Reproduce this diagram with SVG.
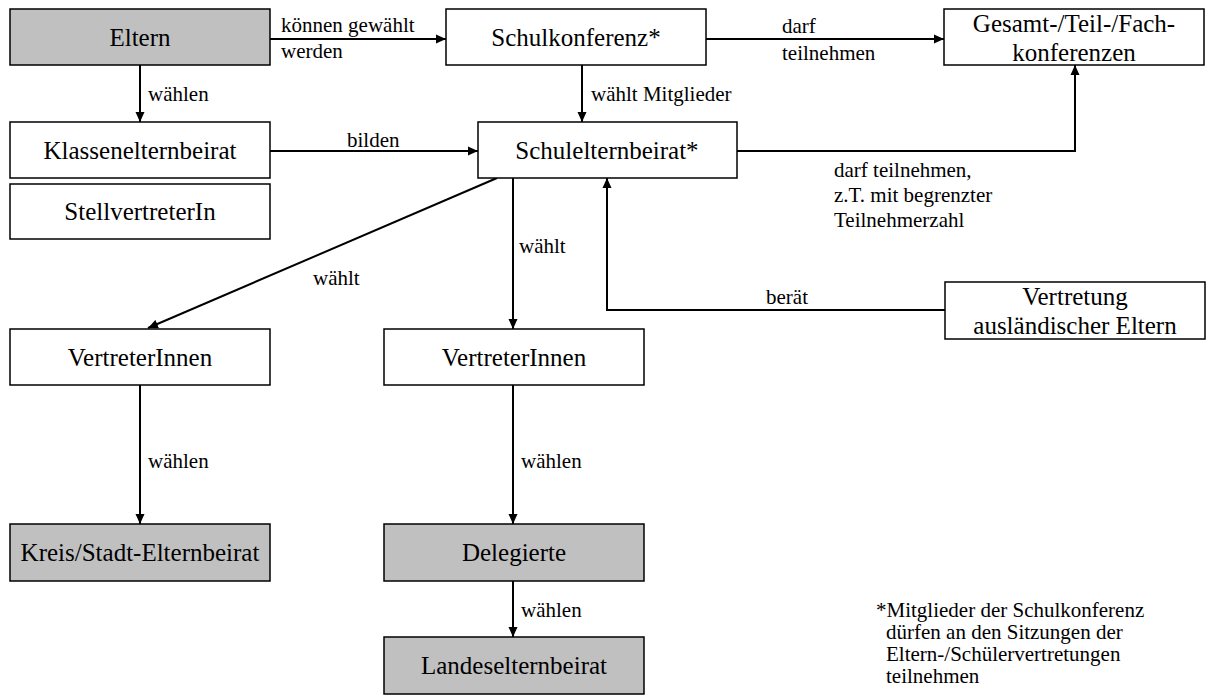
<svg xmlns="http://www.w3.org/2000/svg" width="1210" height="696" viewBox="0 0 1210 696">
<defs>
<style>
.box{fill:#ffffff;stroke:#000;stroke-width:1.5}
.grey{fill:#c0c0c0}
.bt{font-family:"Liberation Serif","Times New Roman",serif;font-size:25px;text-anchor:middle;fill:#000}
.lb{font-family:"Liberation Serif","Times New Roman",serif;font-size:21px;fill:#000}
.c{fill:none;stroke:#000;stroke-width:2}
</style>
<marker id="ah" viewBox="0 0 10 10" refX="10" refY="5" markerWidth="10" markerHeight="10" markerUnits="userSpaceOnUse" orient="auto">
<path d="M0,0.5 L10,5 L0,9.5 z" fill="#000"/>
</marker>
</defs>
<rect width="1210" height="696" fill="#fff"/>
<g id="connectors">
<path class="c" d="M270,39 H446" marker-end="url(#ah)"/>
<path class="c" d="M140,65 V122" marker-end="url(#ah)"/>
<path class="c" d="M270,151 H478" marker-end="url(#ah)"/>
<path class="c" d="M582,65 V122" marker-end="url(#ah)"/>
<path class="c" d="M706,39 H944" marker-end="url(#ah)"/>
<path class="c" d="M737,151 H1075 V65" marker-end="url(#ah)"/>
<path class="c" d="M497,178 L148,328" marker-end="url(#ah)"/>
<path class="c" d="M513,178 V329" marker-end="url(#ah)"/>
<path class="c" d="M945,310 H607 V178" marker-end="url(#ah)"/>
<path class="c" d="M140,385 V524" marker-end="url(#ah)"/>
<path class="c" d="M513,385 V524" marker-end="url(#ah)"/>
<path class="c" d="M513,581 V637" marker-end="url(#ah)"/>
<text class="lb" x="281" y="32">können gewählt</text>
<text class="lb" x="281" y="58">werden</text>
<text class="lb" x="148" y="101">wählen</text>
<text class="lb" x="347" y="147">bilden</text>
<text class="lb" x="591" y="101">wählt Mitglieder</text>
<text class="lb" x="782" y="33">darf</text>
<text class="lb" x="782" y="60">teilnehmen</text>
<text class="lb" x="834" y="177">darf teilnehmen,</text>
<text class="lb" x="834" y="202">z.T. mit begrenzter</text>
<text class="lb" x="834" y="227">Teilnehmerzahl</text>
<text class="lb" x="519" y="253">wählt</text>
<text class="lb" x="313" y="285">wählt</text>
<text class="lb" x="766" y="304">berät</text>
<text class="lb" x="148" y="468">wählen</text>
<text class="lb" x="521" y="468">wählen</text>
<text class="lb" x="521" y="617">wählen</text>
</g>
<g id="eltern"><rect class="box grey" x="10" y="9" width="260" height="56"/><text class="bt" x="140" y="46">Eltern</text></g>
<g id="schulkonferenz"><rect class="box" x="446" y="9" width="260" height="56"/><text class="bt" x="576" y="46">Schulkonferenz*</text></g>
<g id="gesamtkonferenzen"><rect class="box" x="944" y="9" width="260" height="56"/><text class="bt" x="1074" y="32">Gesamt-/Teil-/Fach-</text><text class="bt" x="1074" y="61">konferenzen</text></g>
<g id="klassenelternbeirat"><rect class="box" x="10" y="122" width="260" height="56"/><text class="bt" x="140" y="159">Klassenelternbeirat</text></g>
<g id="stellvertreterin"><rect class="box" x="10" y="184" width="260" height="55"/><text class="bt" x="140" y="220">StellvertreterIn</text></g>
<g id="schulelternbeirat"><rect class="box" x="478" y="122" width="259" height="56"/><text class="bt" x="607" y="159">Schulelternbeirat*</text></g>
<g id="vertretung"><rect class="box" x="945" y="282" width="260" height="57"/><text class="bt" x="1075" y="305">Vertretung</text><text class="bt" x="1075" y="334">ausländischer Eltern</text></g>
<g id="vertreterinnen-links"><rect class="box" x="10" y="329" width="260" height="56"/><text class="bt" x="140" y="366">VertreterInnen</text></g>
<g id="vertreterinnen-rechts"><rect class="box" x="384" y="329" width="260" height="56"/><text class="bt" x="514" y="366">VertreterInnen</text></g>
<g id="kreis-stadt-elternbeirat"><rect class="box grey" x="10" y="524" width="260" height="57"/><text class="bt" x="140" y="561">Kreis/Stadt-Elternbeirat</text></g>
<g id="delegierte"><rect class="box grey" x="384" y="524" width="260" height="57"/><text class="bt" x="514" y="561">Delegierte</text></g>
<g id="landeselternbeirat"><rect class="box grey" x="384" y="637" width="260" height="57"/><text class="bt" x="514" y="674">Landeselternbeirat</text></g>
<g id="fussnote">
<text class="lb" x="876" y="617">*Mitglieder der Schulkonferenz</text>
<text class="lb" x="886" y="639">dürfen an den Sitzungen der</text>
<text class="lb" x="886" y="661">Eltern-/Schülervertretungen</text>
<text class="lb" x="886" y="683">teilnehmen</text>
</g>
</svg>
